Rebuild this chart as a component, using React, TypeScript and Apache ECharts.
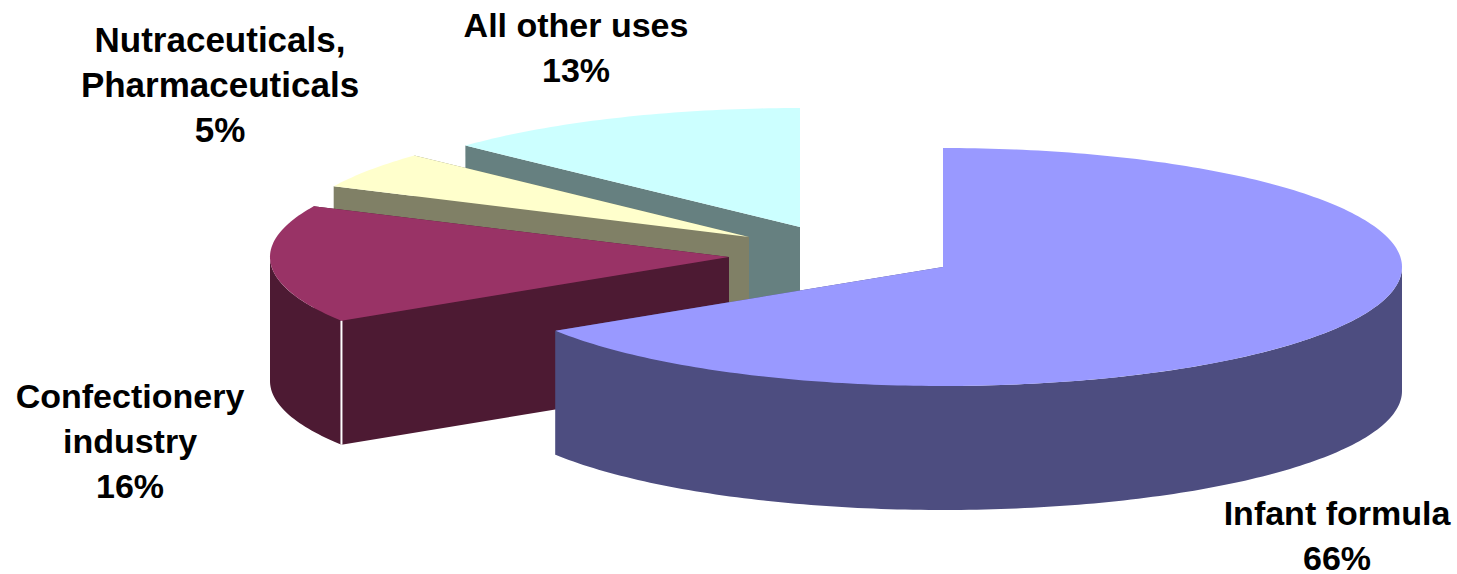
import React, { useEffect, useRef } from "react";
import * as echarts from "echarts";

// Shares of use, in percent, clockwise from twelve o'clock
const categories = [
  "Infant formula",
  "Confectionery\nindustry",
  "Nutraceuticals,\nPharmaceuticals",
  "All other uses",
];
const shares = [66, 16, 5, 13];
const topColors = ["#9999FF", "#993366", "#FFFFCC", "#CCFFFF"];
const wallColors = ["#4D4D80", "#4D1A33", "#808066", "#668080"];

// Projection of the tilted disc: each slice is pulled out to its own apex
const RX = 459;
const RY = 119;
const DEPTH = 124;
const apexes = [
  [943, 267],
  [729, 257],
  [749, 237],
  [800, 227],
];
const labelCentres = [
  [1337, 535],
  [130, 441],
  [220, 84],
  [576, 47],
];
const labelSizes = [34, 34, 35, 34];
const LINE_HEIGHT = 45;

const total = shares.reduce((a, b) => a + b, 0);

function rimPoint(apex: number[], deg: number, drop = 0) {
  const t = (deg * Math.PI) / 180;
  return [apex[0] + RX * Math.sin(t), apex[1] - RY * Math.cos(t) + drop];
}

function arc(apex: number[], from: number, to: number, drop = 0) {
  const pts: number[][] = [];
  const steps = Math.max(2, Math.ceil(Math.abs(to - from)));
  for (let i = 0; i <= steps; i++) {
    pts.push(rimPoint(apex, from + ((to - from) * i) / steps, drop));
  }
  return pts;
}

function renderSlice(_params: any, api: any) {
  const idx = api.value(0);
  const before = shares.slice(0, idx).reduce((a, b) => a + b, 0);
  const start = (before / total) * 360;
  const end = ((before + api.value(1)) / total) * 360;
  const apex = apexes[idx];
  const base = [apex[0], apex[1] + DEPTH];
  const wall = wallColors[idx];
  const children: any[] = [];

  const radialFace = (deg: number) => {
    const p = rimPoint(apex, deg);
    const q = rimPoint(apex, deg, DEPTH);
    return {
      type: "polygon",
      shape: { points: [apex, p, q, base] },
      style: { fill: wall },
    };
  };
  children.push(radialFace(end));
  children.push(radialFace(start));

  // Outer rim, only on the half of the disc that faces the viewer
  const frontFrom = Math.max(start, 90);
  const frontTo = Math.min(end, 270);
  if (frontTo > frontFrom) {
    children.push({
      type: "polygon",
      shape: {
        points: [
          ...arc(apex, frontFrom, frontTo),
          ...arc(apex, frontTo, frontFrom, DEPTH),
        ],
      },
      style: { fill: wall },
    });
  }

  children.push({
    type: "polygon",
    shape: { points: [apex, ...arc(apex, start, end)] },
    style: { fill: topColors[idx] },
  });

  // Light seam on the corner of the confectionery slice
  if (idx === 1) {
    const p = rimPoint(apex, start);
    const q = rimPoint(apex, start, DEPTH);
    children.push({
      type: "line",
      shape: { x1: p[0], y1: p[1], x2: q[0], y2: q[1] },
      style: { stroke: "#FFFFFF", lineWidth: 2 },
    });
  }

  return { type: "group", children };
}

function renderLabel(_params: any, api: any) {
  const idx = api.value(0);
  const c = labelCentres[idx];
  return {
    type: "text",
    x: c[0],
    y: c[1],
    style: {
      text: `${categories[idx]}\n${api.value(1)}%`,
      font: `bold ${labelSizes[idx]}px "Liberation Sans", Arial, sans-serif`,
      lineHeight: LINE_HEIGHT,
      fill: "#000000",
      align: "center",
      verticalAlign: "middle",
    },
  };
}

export default function App() {
  const ref = useRef<HTMLDivElement>(null);

  useEffect(() => {
    if (!ref.current) return;
    const chart = echarts.init(ref.current, undefined, { renderer: "svg" });
    const rows = shares.map((v, i) => [i, v]);
    chart.setOption({
      animation: false,
      backgroundColor: "#FFFFFF",
      series: [
        {
          type: "custom",
          coordinateSystem: "none",
          silent: true,
          renderItem: renderSlice,
          // Painted from the back of the scene to the front
          data: [...rows].reverse(),
          z: 1,
        },
        {
          type: "custom",
          coordinateSystem: "none",
          silent: true,
          renderItem: renderLabel,
          data: rows,
          z: 2,
        },
      ],
    });
    return () => chart.dispose();
  }, []);

  return (
    <div
      ref={ref}
      style={{ position: "absolute", left: 0, top: 0, width: 1457, height: 574 }}
    />
  );
}
